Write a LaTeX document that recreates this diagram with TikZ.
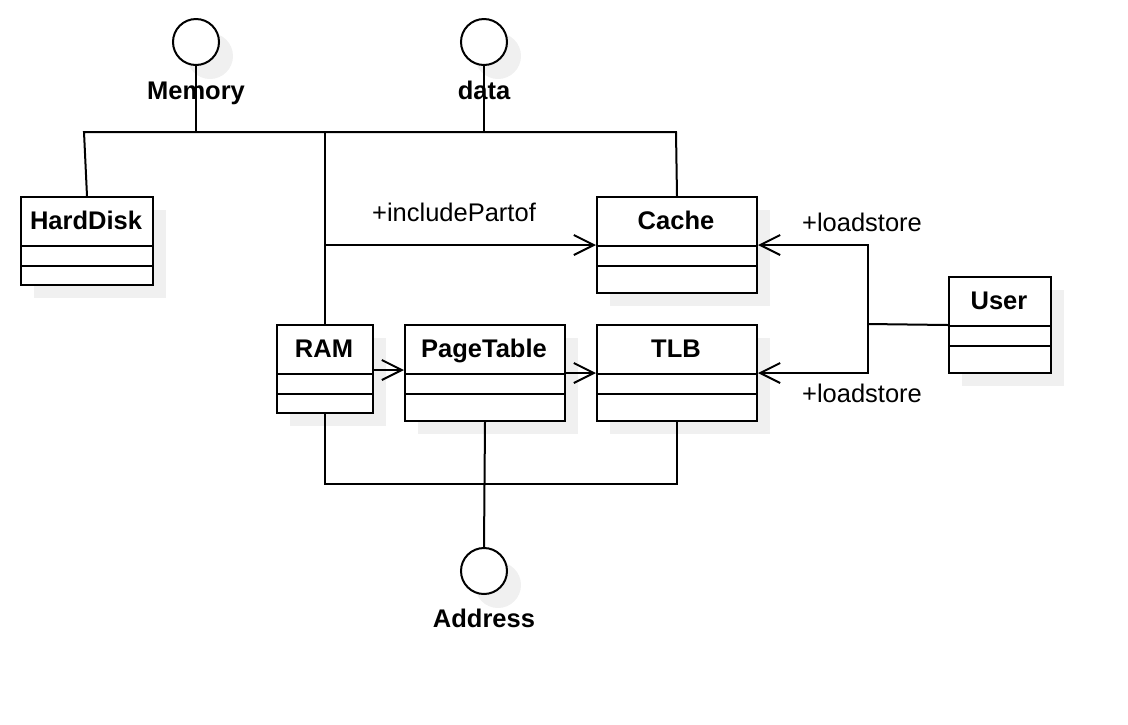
\documentclass[tikz,border=0pt]{standalone}
\usepackage{fontspec}
\setmainfont{Liberation Sans}
\usetikzlibrary{arrows.meta}
\definecolor{shadowc}{RGB}{240,240,240}
\tikzset{
  every picture/.style={x=1pt,y=-1pt},
  ln/.style={line width=2pt},
  arr/.style={ln,-{Straight Barb[length=20pt,width=20pt,line width=2pt]}},
  ttl/.style={font=\fontsize{25.5}{30}\selectfont\bfseries,inner sep=0pt,anchor=base},
  lbl/.style={font=\fontsize{25.5}{30}\selectfont,inner sep=0pt,anchor=base},
  iface/.style={circle,draw,fill=white,line width=2pt,minimum size=46pt,inner sep=0pt},
  ishadow/.style={circle,fill=shadowc,minimum size=46pt,inner sep=0pt},
  boxs/.style={draw,fill=white,line width=2pt,inner sep=0pt,anchor=north west},
}
% name, x1, y1, x2, y2, divider1, divider2, title
\newcommand\umlclass[8]{%
  \fill[shadowc] ({#2+14},{#3+14}) rectangle ({#4+14},{#5+14});
  \node[boxs,minimum width={(#4-#2)*1pt},minimum height={(#5-#3)*1pt}] (#1) at (#2,#3) {};
  \draw[ln] (#2,#6) -- (#4,#6);
  \draw[ln] (#2,#7) -- (#4,#7);
  \node[ttl] (#1t) at ({(#2+#4)/2},{(#3+#6)/2+8.5}) {#8};
}
\begin{document}
\begin{tikzpicture}
\useasboundingbox (0,0) rectangle (1128,724);
% interface circles
\node[ishadow] (memS) at (210,56) {};
\node[ishadow] (dataS) at (498,56) {};
\node[ishadow] (addrS) at (498,585) {};
\node[iface] (mem) at (196,42) {};
\node[iface] (data) at (484,42) {};
\node[iface] (addr) at (484,571) {};
% classes
\umlclass{harddisk}{20}{196}{152}{284}{246}{266}{HardDisk}
\umlclass{cache}{596}{196}{756}{292}{246}{266}{Cache}
\umlclass{ram}{276}{324}{372}{412}{374}{394}{RAM}
\umlclass{pagetable}{404}{324}{564}{420}{374}{394}{PageTable}
\umlclass{tlb}{596}{324}{756}{420}{374}{394}{TLB}
\umlclass{user}{948}{276}{1050}{372}{326}{346}{User}
% coordinates
\coordinate (tl) at (84,132);
\coordinate (tr) at (676,132);
\coordinate (j) at (868,324);
\coordinate (b) at (484,484);
% top bus
\draw[ln] (harddisk.north) -- (tl) -- (tr) -- (cache.north);
\draw[ln] (mem.south) -- (mem.south |- tl);
\draw[ln] (data.south) -- (data.south |- tl);
\draw[ln] (ram.north) -- (ram.north |- tl);
% arrows
\draw[arr] (ram.north |- cache.west) -- (cache.west);
\draw[arr] (ram.east |- 0,370) -- (pagetable.west |- 0,370);
\draw[arr] (pagetable.east) -- (tlb.west);
\draw[ln] (user.west) -- (j);
\draw[arr] (j) |- (cache.east);
\draw[arr] (j) |- (tlb.east);
% bottom bus
\draw[ln] (ram.south) |- (b) -| (tlb.south);
\draw[ln] (pagetable.south) -- (addr.north);
% labels
\node[ttl] (memL) at (196,99) {Memory};
\node[ttl] (dataL) at (484,99) {data};
\node[ttl] (addrL) at (484,627) {Address};
\node[lbl] (incl) at (454,221) {+includePartof};
\node[lbl] (ls1) at (862,231) {+loadstore};
\node[lbl] (ls2) at (862,402) {+loadstore};
\end{tikzpicture}
\end{document}
